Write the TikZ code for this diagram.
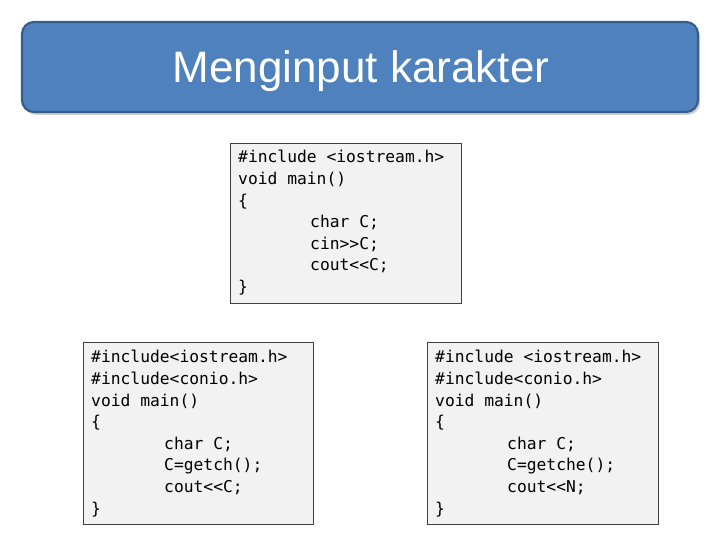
\documentclass[tikz,border=0pt]{standalone}
\usepackage{fontspec}
\setmainfont{Liberation Sans}
\newfontfamily\codefont{DejaVu Sans Mono}
\definecolor{titlefill}{HTML}{4F81BD}
\definecolor{titleborder}{HTML}{385D8A}
\definecolor{codefill}{HTML}{F2F2F2}
\definecolor{codeborder}{HTML}{404040}
\tikzset{
  codebox/.style={draw=codeborder, line width=0.9pt, fill=codefill, rectangle, inner sep=0pt, anchor=north west},
  code/.style={anchor=base west, inner sep=0pt, font=\codefont\fontsize{16.3}{21.6}\selectfont, text=black},
}
\begin{document}
\begin{tikzpicture}[x=1pt,y=1pt]
\useasboundingbox (0,0) rectangle (720,540);
% title
\fill[black!18, rounded corners=12pt] (24,425) rectangle (700,516);
\node[draw=titleborder, line width=2.2pt, fill=titlefill, rounded corners=12pt, minimum width=676pt, minimum height=90pt, inner sep=0pt] (title) at (360,473) {};
\node[text=white, font=\fontsize{44}{50}\selectfont, anchor=base] (ttext) at (361,457) {Menginput karakter};
% box 1
\node[codebox, minimum width=231pt, minimum height=160pt] (b1) at (230,397) {};
\node[code] (l11) at (238,377) {\#include <iostream.h>};
\node[code] (l12) at (238,355.4) {void main()};
\node[code] (l13) at (238,333.8) {\{};
\node[code] (l14) at (310,312.2) {char C;};
\node[code] (l15) at (310,290.6) {cin>>C;};
\node[code] (l16) at (310,269) {cout<<C;};
\node[code] (l17) at (238,247.4) {\}};
% box 2
\node[codebox, minimum width=230pt, minimum height=182pt] (b2) at (83,198) {};
\node[code] (l21) at (91,177) {\#include<iostream.h>};
\node[code] (l22) at (91,155.4) {\#include<conio.h>};
\node[code] (l23) at (91,133.8) {void main()};
\node[code] (l24) at (91,112.2) {\{};
\node[code] (l25) at (164,90.6) {char C;};
\node[code] (l26) at (164,69) {C=getch();};
\node[code] (l27) at (164,47.4) {cout<<C;};
\node[code] (l28) at (91,25.8) {\}};
% box 3
\node[codebox, minimum width=231pt, minimum height=182pt] (b3) at (427,198) {};
\node[code] (l31) at (435,177) {\#include <iostream.h>};
\node[code] (l32) at (435,155.4) {\#include<conio.h>};
\node[code] (l33) at (435,133.8) {void main()};
\node[code] (l34) at (435,112.2) {\{};
\node[code] (l35) at (507,90.6) {char C;};
\node[code] (l36) at (507,69) {C=getche();};
\node[code] (l37) at (507,47.4) {cout<<N;};
\node[code] (l38) at (435,25.8) {\}};
\end{tikzpicture}
\end{document}
